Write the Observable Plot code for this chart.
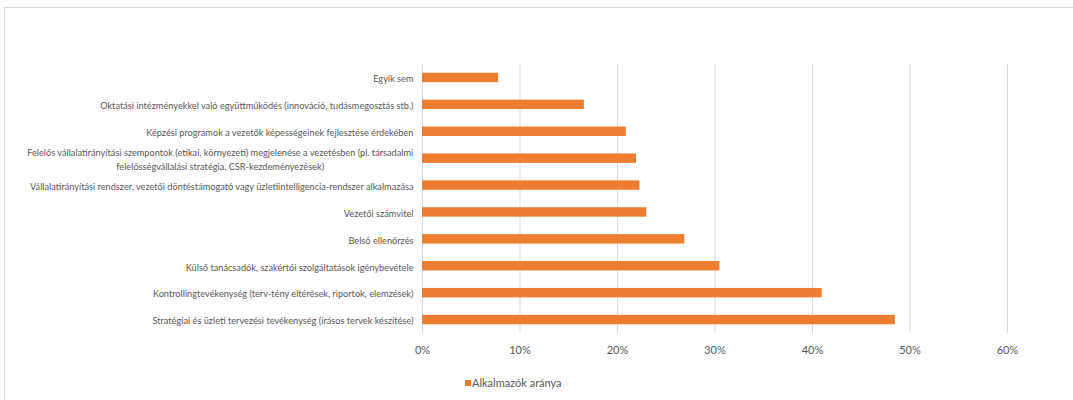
<!DOCTYPE html>
<html>
<head>
<meta charset="utf-8">
<script src="https://cdn.jsdelivr.net/npm/d3@7"></script>
<script src="https://cdn.jsdelivr.net/npm/@observablehq/plot@0.6"></script>
<style>
  body { margin: 0; background: #fff; }
  #chart { position: relative; width: 1073px; height: 400px; overflow: hidden; background: #fff; }
  #chart svg { display: block; }
  .frame-top { position: absolute; left: 4px; top: 7px; right: 0; height: 1px; background: #d9d9d9; }
  .frame-left { position: absolute; left: 4px; top: 7px; bottom: 0; width: 1px; background: #d9d9d9; }
  .legend { position: absolute; left: 465px; top: 376px; display: flex; align-items: center;
            font: 11px Lato, sans-serif; color: #595959; }
  .legend i { display: inline-block; width: 6px; height: 6px; background: #ED7D31; margin-right: 1px; }
</style>
</head>
<body>
<div id="chart">
  <div class="frame-top"></div>
  <div class="frame-left"></div>
</div>
<script>
// Categories, top to bottom
const categories = [
  "Egyik sem",
  "Oktatási intézményekkel való együttműködés (innováció, tudásmegosztás stb.)",
  "Képzési programok a vezetők képességeinek fejlesztése érdekében",
  "Felelős vállalatirányítási szempontok (etikai, környezeti) megjelenése a vezetésben (pl. társadalmi\nfelelősségvállalási stratégia, CSR-kezdeményezések)",
  "Vállalatirányítási rendszer, vezetői döntéstámogató vagy üzletiintelligencia-rendszer alkalmazása",
  "Vezetői számvitel",
  "Belső ellenőrzés",
  "Külső tanácsadók, szakértői szolgáltatások igénybevétele",
  "Kontrollingtevékenység (terv-tény eltérések, riportok, elemzések)",
  "Stratégiai és üzleti tervezési tevékenység (írásos tervek készítése)"
];
// Share of companies using each practice
const shares = [0.078, 0.166, 0.209, 0.2195, 0.223, 0.230, 0.269, 0.305, 0.410, 0.485];
const xTicks = [0, 0.1, 0.2, 0.3, 0.4, 0.5, 0.6];
const seriesName = "Alkalmazók aránya";
const barColor = "#ED7D31";

const data = categories.map((c, i) => ({category: c, value: shares[i]}));
const pct = d => Math.round(d * 100) + "%";

const chart = Plot.plot({
  width: 1073,
  height: 365,
  marginLeft: 422,
  marginRight: 66,
  marginTop: 64,
  marginBottom: 32,
  style: {fontFamily: "Lato, sans-serif", background: "transparent"},
  x: {domain: [0, 0.6]},
  y: {domain: categories, paddingInner: 0.65, paddingOuter: 0.325, round: false},
  marks: [
    Plot.gridX(xTicks, {stroke: "#d9d9d9", strokeOpacity: 1}),
    Plot.barX(data, {x: "value", y: "category", fill: barColor}),
    Plot.axisX(xTicks, {tickSize: 0, tickPadding: 12.5, fontSize: 11, fill: "#595959",
                        tickFormat: pct, label: null}),
    Plot.axisY({tickSize: 0, tickPadding: 9, fontSize: 9.2, fill: "#595959",
                label: null, lineHeight: 1.45})
  ]
});

const host = document.getElementById("chart");
host.insertBefore(chart, host.firstChild);

// Wrapped category labels are centred under their first line
d3.select(chart).selectAll("g[aria-label='y-axis tick label'] text").each(function() {
  const spans = this.querySelectorAll("tspan");
  if (spans.length < 2) return;
  const w = this.getBBox().width;
  this.setAttribute("text-anchor", "middle");
  spans.forEach(s => s.setAttribute("x", -w / 2));
});

const legend = document.createElement("div");
legend.className = "legend";
legend.innerHTML = `<i></i><span>${seriesName}</span>`;
host.appendChild(legend);
</script>
</body>
</html>
